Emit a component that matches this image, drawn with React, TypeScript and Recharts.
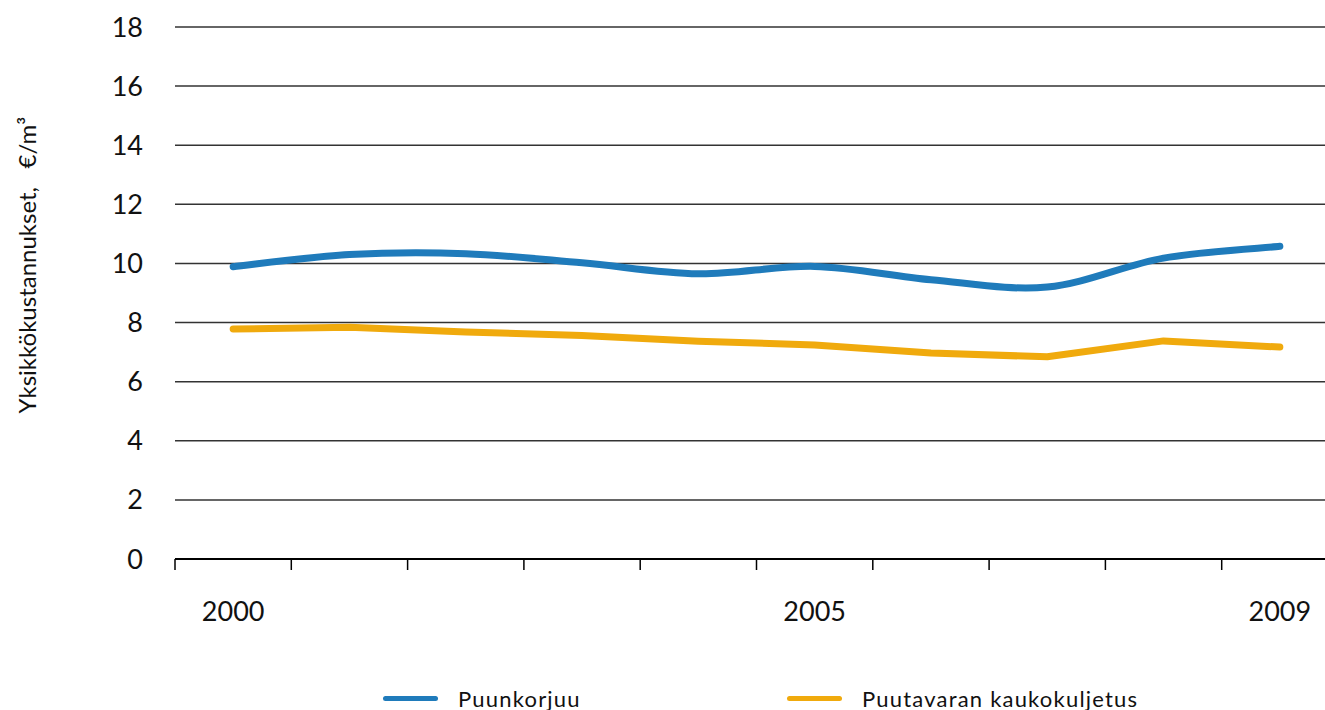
import { LineChart, Line, XAxis, YAxis, CartesianGrid } from 'recharts'

const years = ['2000', '2001', '2002', '2003', '2004', '2005', '2006', '2007', '2008', '2009']
const labeledYears = ['2000', '2005', '2009']
const puunkorjuu = [9.89, 10.3, 10.33, 10.02, 9.65, 9.9, 9.45, 9.2, 10.18, 10.58]
const kaukokuljetus = [7.78, 7.84, 7.68, 7.56, 7.37, 7.24, 6.97, 6.84, 7.38, 7.17]
const yTicks = [0, 2, 4, 6, 8, 10, 12, 14, 16, 18]

const seriesNames = ['Puunkorjuu', 'Puutavaran kaukokuljetus']
const seriesColors = ['#1f7bbb', '#f0aa0d']
const yTitle = 'Yksikkökustannukset,   €/m³'

const FONT = 'Lato, "Open Sans", sans-serif'
const CHART_W = 1345
const CHART_H = 710
const MARGIN = { top: 27, right: 7, bottom: 0, left: 0 }
const Y_AXIS_W = 175
// plot is wider than the window on purpose: the last band runs off the right edge
const PLOT_W = CHART_W - MARGIN.left - MARGIN.right - Y_AXIS_W
const BAND = PLOT_W / years.length

const data = years.map((y, i) => ({
  year: y,
  puunkorjuu: puunkorjuu[i],
  kaukokuljetus: kaukokuljetus[i],
}))

// spreadsheet-style smoothed line (uniform Catmull-Rom as cubic beziers)
function smoothCurve(context: any) {
  let pts: number[][] = []
  return {
    areaStart() {},
    areaEnd() {},
    lineStart() { pts = [] },
    lineEnd() {
      if (!pts.length) return
      context.moveTo(pts[0][0], pts[0][1])
      for (let i = 0; i < pts.length - 1; i++) {
        const p0 = pts[i - 1] ?? pts[i]
        const p1 = pts[i]
        const p2 = pts[i + 1]
        const p3 = pts[i + 2] ?? p2
        context.bezierCurveTo(
          p1[0] + (p2[0] - p0[0]) / 6, p1[1] + (p2[1] - p0[1]) / 6,
          p2[0] - (p3[0] - p1[0]) / 6, p2[1] - (p3[1] - p1[1]) / 6,
          p2[0], p2[1],
        )
      }
    },
    point(x: number, y: number) { pts.push([+x, +y]) },
  }
}

function XTick(props: any) {
  const { x, y, payload } = props
  const lx = x - BAND / 2
  return (
    <g>
      <line x1={lx} x2={lx} y1={y} y2={y + 11} stroke="#000" strokeWidth={1.5} />
      {labeledYears.includes(payload.value) && (
        <text x={x} y={y + 62} textAnchor="middle" fontFamily={FONT} fontSize={27} fill="#111">
          {payload.value}
        </text>
      )}
    </g>
  )
}

function LegendRow() {
  const lefts = [383, 787]
  return (
    <>
      {seriesNames.map((name, i) => (
        <div
          key={name}
          style={{
            position: 'absolute', left: lefts[i], top: 684, height: 28,
            display: 'flex', alignItems: 'center', fontFamily: FONT, fontSize: 22, color: '#111',
          }}
        >
          <span style={{ display: 'inline-block', width: 55, height: 5, borderRadius: 3, background: seriesColors[i], marginRight: 20 }} />
          <span style={{ letterSpacing: 1.2 }}>{name}</span>
        </div>
      ))}
    </>
  )
}

export default function App() {
  return (
    <div style={{ position: 'absolute', left: 0, top: 0, width: 1325, height: 710, overflow: 'hidden', background: '#fff' }}>
      <LineChart width={CHART_W} height={CHART_H} data={data} margin={MARGIN}>
        <CartesianGrid horizontal vertical={false} stroke="#333" strokeWidth={1.5} />
        <XAxis
          dataKey="year"
          height={CHART_H - 559}
          interval={0}
          padding={{ left: BAND / 2, right: BAND / 2 }}
          tickLine={false}
          tickSize={0}
          tickMargin={0}
          axisLine={{ stroke: '#000', strokeWidth: 2 }}
          tick={<XTick />}
        />
        <YAxis
          width={Y_AXIS_W}
          domain={[0, 18]}
          ticks={yTicks}
          interval={0}
          axisLine={false}
          tickLine={false}
          tickSize={0}
          tickMargin={32}
          tick={{ fontFamily: FONT, fontSize: 27, fill: '#111' }}
        />
        <Line
          dataKey="kaukokuljetus"
          name={seriesNames[1]}
          type="linear"
          stroke={seriesColors[1]}
          strokeWidth={7}
          strokeLinecap="round"
          strokeLinejoin="round"
          dot={false}
          activeDot={false}
          isAnimationActive={false}
        />
        <Line
          dataKey="puunkorjuu"
          name={seriesNames[0]}
          type={smoothCurve as any}
          stroke={seriesColors[0]}
          strokeWidth={7}
          strokeLinecap="round"
          strokeLinejoin="round"
          dot={false}
          activeDot={false}
          isAnimationActive={false}
        />
      </LineChart>
      <div
        style={{
          position: 'absolute', left: 27 - 200, top: 265 - 15, width: 400, height: 30, lineHeight: '30px',
          transform: 'rotate(-90deg)', transformOrigin: '50% 50%', textAlign: 'center',
          fontFamily: FONT, fontSize: 24, color: '#111', whiteSpace: 'pre',
        }}
      >
        {yTitle}
      </div>
      <LegendRow />
    </div>
  )
}
